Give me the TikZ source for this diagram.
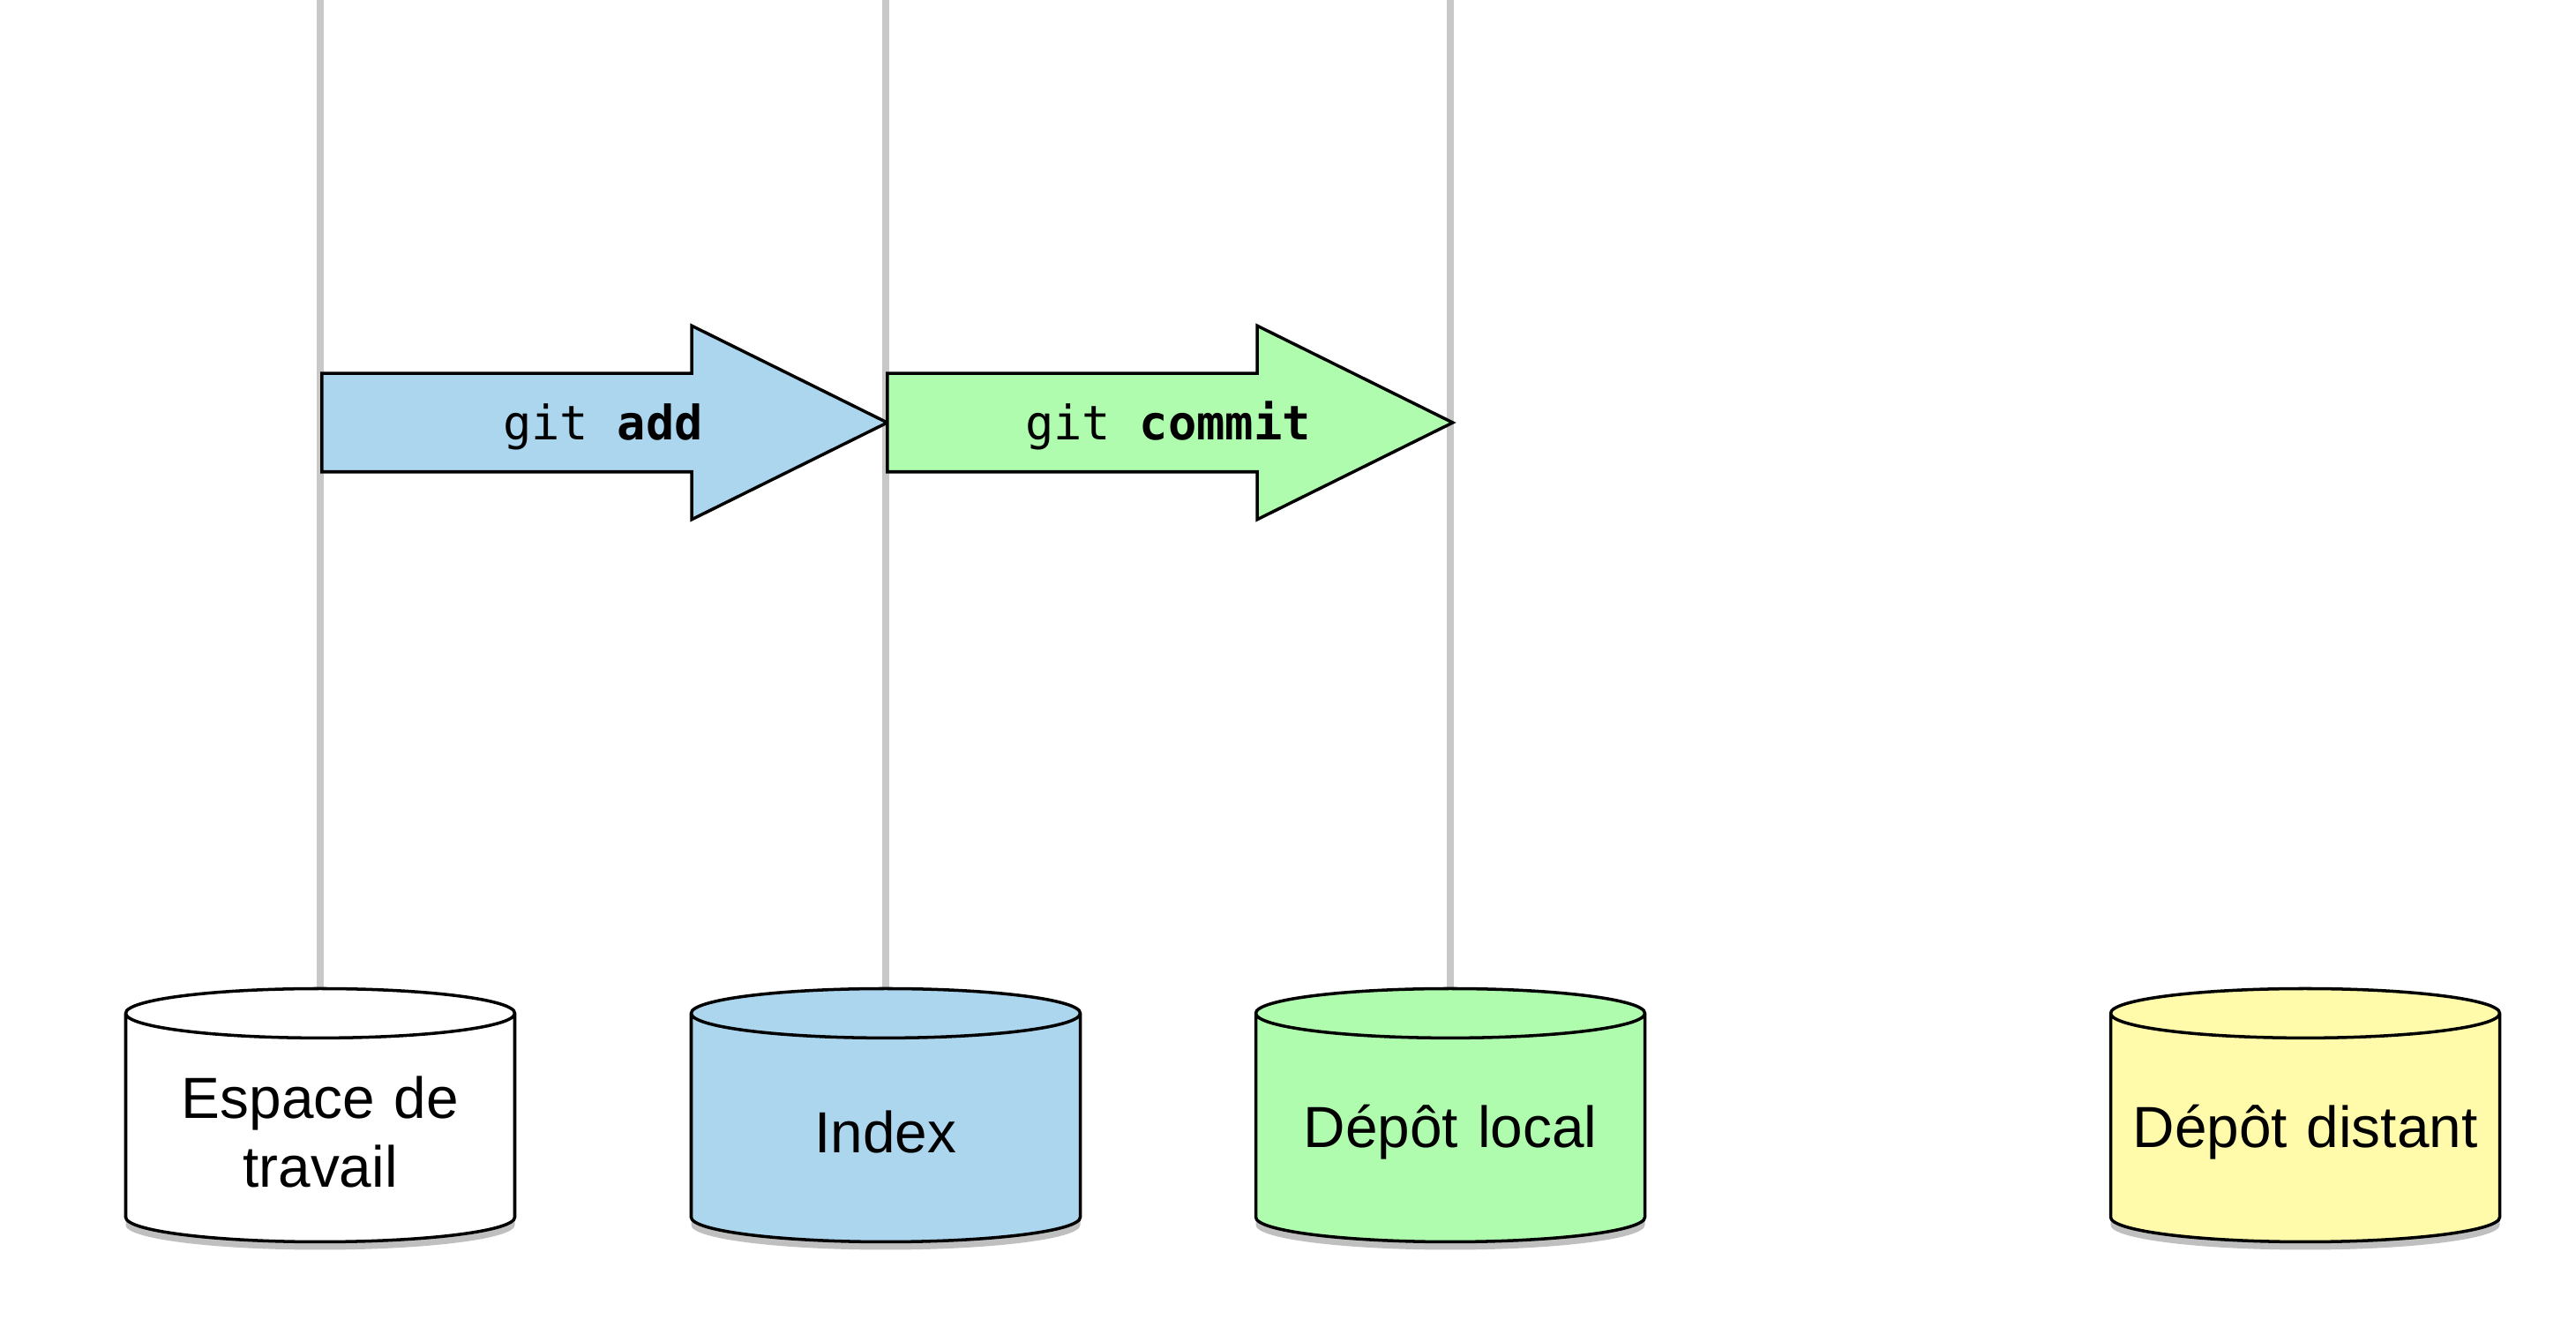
\documentclass[tikz,border=0pt]{standalone}
\usepackage{fontspec}
\setmainfont{Liberation Sans}
\setmonofont{DejaVu Sans Mono}
\usetikzlibrary{shapes.geometric,shapes.arrows,shadows,backgrounds}
\definecolor{indexblue}{RGB}{171,214,238}
\definecolor{localgreen}{RGB}{175,252,175}
\definecolor{remoteyellow}{RGB}{255,251,170}
\definecolor{railgray}{RGB}{200,200,200}

\begin{document}
\begin{tikzpicture}
		[every node/.style={ },
		store/.style={cylinder, shape border rotate=90, draw, line width=1pt, aspect=0.13,
			text width=4.1cm, inner xsep=0.1cm, minimum width=4.41cm, minimum height=2.87cm, align=center,
			font=\fontsize{18.7}{22.2}\selectfont,
			drop shadow={shadow xshift=0pt, shadow yshift=-0.09cm, opacity=0.5}},
		cmd/.style={single arrow, draw, line width=1pt, minimum height=6.41cm, minimum width=2.16cm,
			single arrow head extend=0.54cm, single arrow tip angle=52.7, inner sep=0pt,
			text height=0.73cm, text depth=0.35cm, anchor=tail},
		cmdtext/.style={anchor=base, inner sep=0pt, font=\fontsize{15.3}{18}\selectfont\ttfamily},
		rail/.style={draw=railgray, line width=2.1pt}
		]
		\useasboundingbox (0,0) rectangle (29.2,15.2);
		\coordinate (top) at (0,15.2);
		\begin{scope}
			\node[store, fill=white] (W) at (3.63, 2.37) {Espace de\\travail};
			\node[store, fill=indexblue] (I) at (10.04, 2.37) {Index};
			\node[store, fill=localgreen] (L) at (16.44, 2.37) {Dépôt local};
			\node[store, fill=remoteyellow] (R) at (26.13, 2.37) {Dépôt distant};
		\end{scope}
		\begin{scope}[on background layer]
			\foreach \x in {W, I, L}
			\draw[rail] (\x |- top) -- (\x.center);
		\end{scope}
		\node[cmd, fill=indexblue] (add) at (3.63, 10.41) {};
		\node[cmd, fill=localgreen] (commit) at (10.04, 10.41) {};
		\node[cmdtext] (addlbl) at (6.835, 10.22) {git \textbf{add}};
		\node[cmdtext] (commitlbl) at (13.24, 10.22) {git \textbf{commit}};
	\end{tikzpicture}
\end{document}
